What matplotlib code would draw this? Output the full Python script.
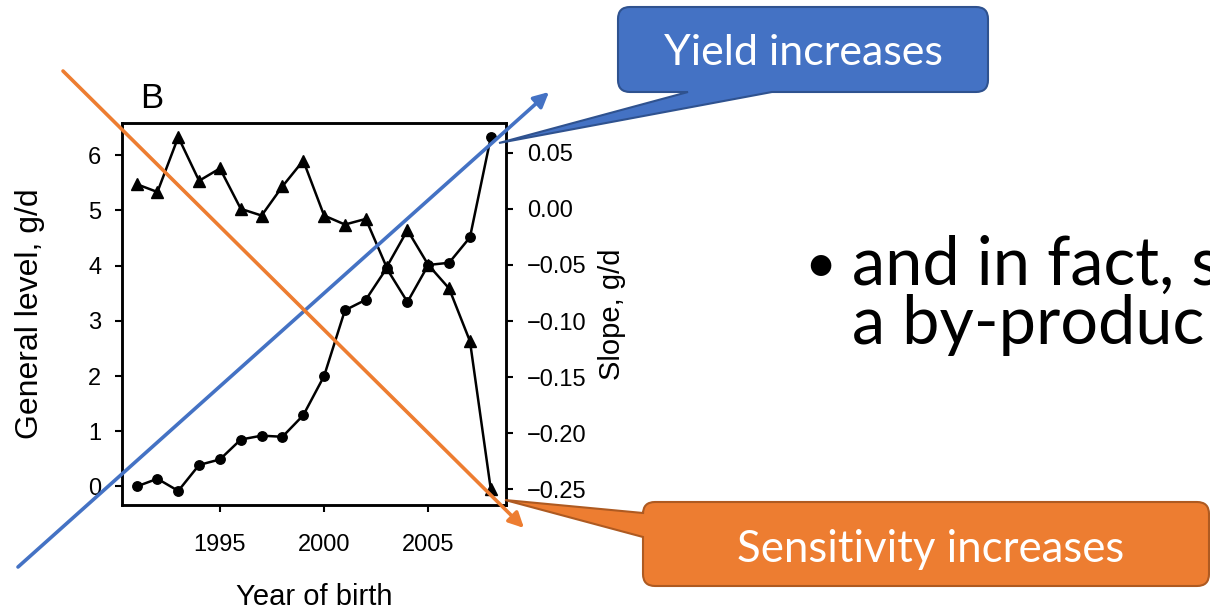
import numpy as np
import matplotlib.pyplot as plt
from matplotlib.path import Path
from matplotlib.patches import PathPatch

# Birth-year series: general level (left axis, circles) and slope (right axis, triangles)
years = np.arange(1991, 2009)
general_level = [0.00, 0.14, -0.08, 0.39, 0.49, 0.85, 0.92, 0.90, 1.29, 2.00,
                 3.19, 3.38, 3.95, 3.34, 4.01, 4.05, 4.51, 6.32]
slope = [0.022, 0.015, 0.064, 0.025, 0.036, 0.000, -0.006, 0.020, 0.043, -0.006,
         -0.014, -0.009, -0.052, -0.019, -0.050, -0.071, -0.118, -0.250]

level_ticks = [0, 1, 2, 3, 4, 5, 6]
slope_ticks = [0.05, 0.00, -0.05, -0.10, -0.15, -0.20, -0.25]
year_ticks = [1995, 2000, 2005]

yield_text = "Yield increases"
sens_text = "Sensitivity increases"
bullet_lines = ["and in fact, s", "a by-produc"]

BLUE = '#4472C4'
BLUE_EDGE = '#2F528F'
ORANGE = '#ED7D31'
ORANGE_EDGE = '#AE5A21'
SLIDE_FONT = ['Lato', 'DejaVu Sans']

plt.rcParams['font.family'] = ['Liberation Sans', 'DejaVu Sans']

W, H = 1210, 613
fig = plt.figure(figsize=(W / 100, H / 100), dpi=100)

# chart panel
ax = fig.add_axes([122 / W, 1 - 505 / H, 384 / W, 382 / H])
ax2 = ax.twinx()

ax.plot(years, general_level, color='black', lw=1.8, marker='o', ms=6.8)
ax2.plot(years, slope, color='black', lw=1.8, marker='^', ms=9)

ax.set_xlim(1990.3, 2008.73)
ax.set_ylim(-0.335, 6.58)
ax2.set_ylim(-0.264, 0.0765)

ax.set_xticks(year_ticks)
ax.set_yticks(level_ticks)
ax2.set_yticks(slope_ticks)
ax2.set_yticklabels([f"{v:.2f}".replace('-', '\u2212') for v in slope_ticks])

for a in (ax, ax2):
    for sp in a.spines.values():
        sp.set_linewidth(1.8)
ax.tick_params(axis='both', direction='out', length=5, width=1.5, labelsize=17, pad=10)
ax.tick_params(axis='x', pad=16)
ax2.tick_params(axis='y', direction='out', length=5, width=1.5, labelsize=17, pad=10)

ax.set_xlabel('Year of birth', fontsize=21, va='center')
ax.xaxis.set_label_coords(0.5, -0.241)
ax.set_ylabel('General level, g/d', fontsize=23, va='center')
ax.yaxis.set_label_coords(-0.24, 0.5)
ax2.set_ylabel('Slope, g/d', fontsize=21, va='center', rotation=90)
ax2.yaxis.set_label_coords(1.276, 0.5)

fig.text(140 / W, 1 - 108 / H, 'B', fontsize=25, va='baseline', ha='left')

# slide overlay in pixel units (y grows downward)
ov = fig.add_axes([0, 0, 1, 1], zorder=10)
ov.set_xlim(0, W)
ov.set_ylim(H, 0)
ov.axis('off')
ov.patch.set_alpha(0)


def callout(x0, y0, x1, y1, r, side, b0, b1, tip):
    """Rounded box with a wedge pointer on its bottom or left side."""
    v = [(x0 + r, y0), (x1 - r, y0), (x1, y0), (x1, y0 + r),
         (x1, y1 - r), (x1, y1), (x1 - r, y1)]
    c = [Path.MOVETO, Path.LINETO, Path.CURVE3, Path.CURVE3,
         Path.LINETO, Path.CURVE3, Path.CURVE3]
    if side == 'bottom':
        v += [(b1, y1), tip, (b0, y1)]
        c += [Path.LINETO] * 3
    v += [(x0 + r, y1), (x0, y1), (x0, y1 - r)]
    c += [Path.LINETO, Path.CURVE3, Path.CURVE3]
    if side == 'left':
        v += [(x0, b1), tip, (x0, b0)]
        c += [Path.LINETO] * 3
    v += [(x0, y0 + r), (x0, y0), (x0 + r, y0), (x0 + r, y0)]
    c += [Path.LINETO, Path.CURVE3, Path.CURVE3, Path.CLOSEPOLY]
    return Path(v, c)


arrow_style = '-|>,head_length=0.9,head_width=0.45'
ov.annotate('', xy=(549, 92), xytext=(18, 567),
            arrowprops=dict(arrowstyle=arrow_style, color=BLUE, lw=2.6,
                            shrinkA=0, shrinkB=0))
ov.annotate('', xy=(524, 528), xytext=(63, 71),
            arrowprops=dict(arrowstyle=arrow_style, color=ORANGE, lw=2.6,
                            shrinkA=0, shrinkB=0))

ov.add_patch(PathPatch(callout(618, 7, 988, 92, 12, 'bottom', 688, 772, (499, 143)),
                       facecolor=BLUE, edgecolor=BLUE_EDGE, lw=1.5))
ov.add_patch(PathPatch(callout(643, 502, 1209, 586, 12, 'left', 513, 537, (505, 500)),
                       facecolor=ORANGE, edgecolor=ORANGE_EDGE, lw=1.5))

ov.text(803, 65, yield_text, color='white', fontsize=31, family=SLIDE_FONT,
        ha='center', va='baseline')
ov.text(931, 562, sens_text, color='white', fontsize=31.5, family=SLIDE_FONT,
        ha='center', va='baseline')

ov.text(804, 282, '\u2022', fontsize=40, family=SLIDE_FONT, va='baseline', ha='left')
ov.text(852, 285, bullet_lines[0], fontsize=48, family=SLIDE_FONT, va='baseline', ha='left')
ov.text(852, 344, bullet_lines[1], fontsize=48, family=SLIDE_FONT, va='baseline', ha='left')

fig.savefig('out.png', dpi=100)
